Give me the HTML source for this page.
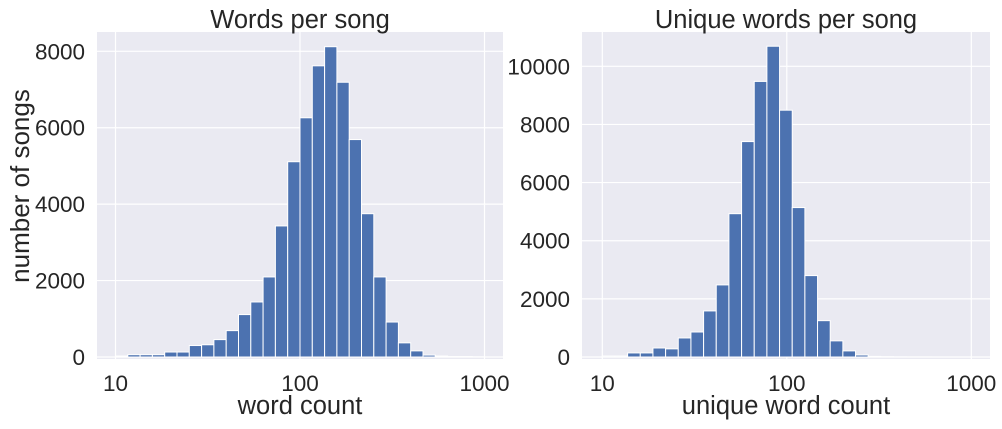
<!DOCTYPE html>
<html><head><meta charset="utf-8"><style>
body{margin:0;background:#fff;}
svg text{font-family:"Liberation Sans",sans-serif;fill:#262626;}
</style></head><body>
<svg id="c" width="1002" height="424" xmlns="http://www.w3.org/2000/svg"></svg>
<script>
const wordCounts=[25,60,60,60,130,130,300,320,455,690,1110,1440,2095,3430,5110,6260,7620,8120,7190,5690,3750,2095,915,370,160,50,25,10,10,5];
const uniqueCounts=[35,35,140,140,310,280,655,860,1585,2480,4930,7410,9480,10690,8490,5140,2800,1250,555,210,70,20,10,5,3,2,1,1,1,0];
const leftBinRange=[10,1000];
const rightBinRange=[10,1145];
const leftYTicks=[0,2000,4000,6000,8000];
const rightYTicks=[0,2000,4000,6000,8000,10000];
const xTicks=[10,100,1000];
const titles=["Words per song","Unique words per song"];
const xLabels=["word count","unique word count"];

const svg=document.getElementById('c');
const NS='http://www.w3.org/2000/svg';
function mk(t,a,p){const e=document.createElementNS(NS,t);for(const k in a)e.setAttribute(k,a[k]);(p||svg).appendChild(e);return e;}

function panel(o){
  const g=mk('g',{});
  
  
  const xs=v=>o.x10+(Math.log10(v)-1)*o.dec;
  const ys=v=>o.y0-v*o.ppu;
  const bg=mk('rect',{x:o.l,y:o.t,width:o.r-o.l,height:o.b-o.t,fill:'#EAEAF2'},g);
  
  
  o.yt.forEach(v=>{
    const ln=mk('line',{x1:o.l,x2:o.r,y1:ys(v),y2:ys(v),stroke:'#fff','stroke-width':1.2},g);
    
    
    const tx=mk('text',{x:o.l-12,y:ys(v)+8,'text-anchor':'end','font-size':22.5},g);
    tx.textContent=v;
    
    
  });
  xTicks.forEach(v=>{
    const ln=mk('line',{x1:xs(v),x2:xs(v),y1:o.t,y2:o.b,stroke:'#fff','stroke-width':1.2},g);
    
    
    const tx=mk('text',{x:xs(v),y:o.b+32,'text-anchor':'middle','font-size':22.5},g);
    tx.textContent=v;
    
    
  });
  const n=o.data.length, a=Math.log10(o.range[0]), bb=Math.log10(o.range[1]);
  o.data.forEach((v,i)=>{
    const e0=Math.pow(10,a+(bb-a)*i/n), e1=Math.pow(10,a+(bb-a)*(i+1)/n);
    if(xs(e0)>o.r) return;
    const r=mk('rect',{x:xs(e0),y:ys(v),width:Math.min(xs(e1),o.r)-xs(e0),height:o.y0-ys(v),fill:'#4C72B0',stroke:'#fff','stroke-width':1},g);
    
    
  });
  const ti=mk('text',{x:(o.l+o.r)/2,y:o.t-4,'text-anchor':'middle','font-size':25.5},g);
  ti.textContent=o.title;
  
  
  const xl=mk('text',{x:(o.l+o.r)/2,y:o.b+55,'text-anchor':'middle','font-size':25.5},g);
  xl.textContent=o.xlabel;
  
  
  return g;
}
panel({name:'words-panel',l:97,r:503,t:32,b:359,x10:115.5,dec:184.5,y0:357,ppu:(357-51.3)/8000,yt:leftYTicks,data:wordCounts,range:leftBinRange,title:titles[0],xlabel:xLabels[0]});
panel({name:'unique-words-panel',l:582,r:990,t:32,b:359,x10:602.3,dec:184.5,y0:357,ppu:(357-66.3)/10000,yt:rightYTicks,data:uniqueCounts,range:rightBinRange,title:titles[1],xlabel:xLabels[1]});
const yl=mk('text',{x:0,y:0,'text-anchor':'middle','font-size':26,transform:'translate(29,186) rotate(-90)'});
yl.textContent='number of songs';


</script>
</body></html>
